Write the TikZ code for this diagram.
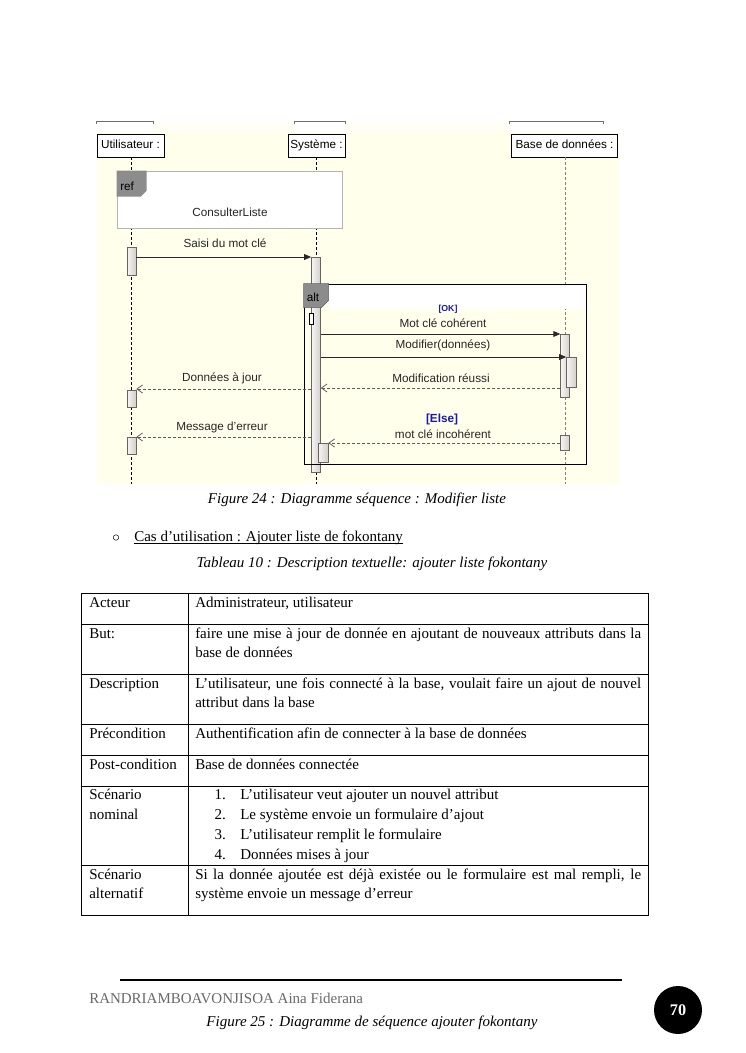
\documentclass[tikz,border=0pt]{standalone}
\usepackage{fontspec}
\setmainfont{Liberation Serif}
\newfontfamily\diag{Liberation Sans}
\usetikzlibrary{arrows.meta}
\definecolor{cream}{RGB}{255,255,236}
\definecolor{creamlight}{RGB}{255,255,246}
\definecolor{tabgray}{RGB}{140,140,140}
\definecolor{refborder}{RGB}{180,180,180}
\definecolor{actfill}{RGB}{226,222,214}
\definecolor{actdraw}{RGB}{105,100,95}
\definecolor{msgcol}{RGB}{40,40,40}
\definecolor{retcol}{RGB}{90,90,90}
\definecolor{guardblue}{RGB}{25,25,170}
\definecolor{footgray}{RGB}{105,105,105}
\definecolor{bracketgray}{RGB}{110,110,110}
\newcommand\jline[1]{\makebox[356.8pt][s]{#1}}
\begin{document}
\begin{tikzpicture}[x=0.8pt,y=-0.8pt,
  dfont/.style={font=\diag\fontsize{9.4}{10}\selectfont},
  lifehead/.style={draw=black, fill=white, dfont, inner sep=0pt, text height=7pt, text depth=1.5pt, minimum height={23*0.8pt}},
  lifeline/.style={draw=black, line width=0.6pt, dash pattern=on 2.4pt off 1.6pt},
  lifelinegray/.style={draw=gray, line width=0.5pt, dash pattern=on 2.4pt off 1.6pt},
  act/.style={draw=actdraw, left color=white!92!gray, right color=actfill!85!gray, line width=0.5pt, inner sep=0pt, minimum width={9*0.8pt}},
  syncmsg/.style={draw=msgcol, line width=0.7pt, -{Triangle[length=5.6pt,width=4.6pt]}},
  retmsg/.style={draw=retcol, line width=0.6pt, dash pattern=on 2.4pt off 1.6pt, -{Straight Barb[length=4.5pt,width=6.5pt,line width=0.6pt]}},
  msglabel/.style={dfont, text=black!85, inner sep=0pt},
  guard/.style={text=guardblue, inner sep=0pt, font=\diag\bfseries},
  tabshape/.style={fill=tabgray, draw=tabgray!70!black, line width=0.4pt},
  body/.style={font=\fontsize{12}{15}\selectfont, inner sep=0pt, anchor=base west},
  caption/.style={font=\fontsize{12}{15}\selectfont\itshape, inner sep=0pt, anchor=base},
  rule/.style={draw=black, line width=0.7pt}
]
\useasboundingbox (0,0) rectangle (745,1053);
\fill[white] (0,0) rectangle (745,1053);

% ---------- diagram background ----------
\fill[cream] (97,132) rectangle (619,484);
\fill[creamlight] (153,121) rectangle (294,132);
\fill[creamlight] (345,121) rectangle (509,132);
\draw[bracketgray, line width=0.6pt] (96,124) -- (96,121) -- (153,121) -- (153,124);
\draw[bracketgray, line width=0.6pt] (294,124) -- (294,121) -- (345,121) -- (345,124);
\draw[bracketgray, line width=0.6pt] (509,124) -- (509,121) -- (603,121) -- (603,124);

% ---------- lifeline heads ----------
\node[lifehead, minimum width={67*0.8pt}] (U) at (130.5,145.5) {Utilisateur :};
\node[lifehead, minimum width={57*0.8pt}] (S) at (316.5,145.5) {Système :};
\node[lifehead, minimum width={106*0.8pt}] (B) at (564.5,145.5) {Base de données :};

\coordinate (Uend) at (131,484);
\coordinate (Send) at (316.5,484);
\coordinate (Bend) at (565.5,484);
\draw[lifeline] (U.south -| Uend) -- (Uend);
\draw[lifeline] (S.south -| Send) -- (Send);
\draw[lifelinegray] (B.south -| Bend) -- (Bend);

% ---------- ref frame ----------
\node[draw=refborder, fill=white, line width=0.6pt, minimum width={225*0.8pt}, minimum height={57*0.8pt}, inner sep=0pt] (ref) at (229.5,199.5) {};
\draw[tabshape, draw=none] (ref.north west) -- ++(30,0) -- ++(0,20) -- ++(-6,6) -- ++(-24,0) -- cycle;
\node[dfont, anchor=west, inner sep=0pt] (reflabel) at (120,186) {ref};
\node[msglabel] (refname) at (230,212) {ConsulterListe};

% ---------- activations ----------
\node[act, minimum height={215*0.8pt}] (S1) at (316,364.5) {};
\node[act, minimum height={28*0.8pt}] (U1) at (131.5,261) {};

% ---------- alt frame ----------
\fill[white] (329,284) rectangle (586,308.5);
\node[draw=black, line width=0.8pt, minimum width={282*0.8pt}, minimum height={180*0.8pt}, inner sep=0pt] (alt) at (445,374) {};
\draw[tabshape] (alt.north west) -- ++(25,0) -- ++(0,17) -- ++(-7,7) -- ++(-18,0) -- cycle;
\node[dfont, anchor=west, inner sep=0pt] (altlabel) at (306.5,297) {alt};

\node[draw=black, fill=white, line width=0.5pt, inner sep=0pt, minimum width={4*0.8pt}, minimum height={11*0.8pt}] (Ssmall) at (311,318.5) {};

\node[act, minimum height={17*0.8pt}] (U2) at (131.5,398.5) {};
\node[act, minimum height={17*0.8pt}] (U3) at (131.5,445.5) {};
\node[act, minimum width={10*0.8pt}, minimum height={19*0.8pt}] (S2) at (323,452.5) {};
\node[act, minimum height={63*0.8pt}] (B1) at (565.2,365.5) {};
\node[act, minimum width={10*0.8pt}, minimum height={30*0.8pt}] (B2) at (571.5,372) {};
\node[act, minimum height={15*0.8pt}] (B3) at (565.2,442.5) {};

% ---------- messages ----------
\coordinate (m1s) at (U1.east |- 0,257);
\coordinate (m1e) at (S1.west |- 0,257);
\draw[syncmsg] (m1s) -- (m1e);
\node[msglabel] (l1) at (225,243) {Saisi du mot clé};

\node[guard, font=\diag\bfseries\fontsize{7}{8}\selectfont] (gok) at (448,309.5) {[OK]};
\coordinate (m2s) at (S1.east |- 0,334);
\coordinate (m2e) at (B1.west |- 0,334);
\draw[syncmsg] (m2s) -- (m2e);
\node[msglabel] (l2) at (443,323) {Mot clé cohérent};

\coordinate (m3s) at (S1.east |- 0,357);
\coordinate (m3e) at (B2.west |- 0,357);
\draw[syncmsg] (m3s) -- (m3e);
\node[msglabel] (l3) at (443,345) {Modifier(données)};

\coordinate (m4s) at (B1.west |- 0,388);
\coordinate (m4e) at (S1.east |- 0,388);
\draw[retmsg] (m4s) -- (m4e);
\node[msglabel] (l4) at (441,378) {Modification réussi};

\coordinate (m5s) at (S1.west |- 0,389);
\coordinate (m5e) at (U2.east |- 0,389);
\draw[retmsg] (m5s) -- (m5e);
\node[msglabel] (l5) at (222,378) {Données à jour};

\node[guard, font=\diag\bfseries\fontsize{9.4}{10}\selectfont] (gelse) at (442,419.5) {[Else]};
\coordinate (m6s) at (B3.west |- 0,443);
\coordinate (m6e) at (S2.east |- 0,443);
\draw[retmsg] (m6s) -- (m6e);
\node[msglabel] (l6) at (443,434) {mot clé incohérent};

\coordinate (m7s) at (S1.west |- 0,437);
\coordinate (m7e) at (U3.east |- 0,437);
\draw[retmsg] (m7s) -- (m7e);
\node[msglabel] (l7) at (222,427) {Message d’erreur};

% ---------- page text ----------
\node[caption] (cap24) at (357,503) {Figure 24 : Diagramme séquence : Modifier liste};
\node[draw=black, circle, line width=0.4pt, inner sep=0pt, minimum size={5.5*0.8pt}] (bullet) at (116,537.5) {};
\node[body] (cas) at (134,541.5) {Cas d’utilisation : Ajouter liste de fokontany};
\draw[black, line width=0.5pt] ([yshift=-1.3pt]cas.base west) -- ([yshift=-1.3pt]cas.base east);
\node[caption] (tab10) at (372,567) {Tableau 10 : Description textuelle: ajouter liste fokontany};

% ---------- table ----------
\node[draw=black, line width=0.7pt, inner sep=0pt, minimum width={567*0.8pt}, minimum height={322*0.8pt}] (tbl) at (364.5,754) {};
\coordinate (c1t) at (188,593);
\coordinate (c1b) at (188,915);
\draw[rule] (c1t) -- (c1b);
\foreach \yy in {624,674,724,755,786,865} {
  \draw[rule] (tbl.west |- 0,\yy) -- (tbl.east |- 0,\yy);
}

\node[body] (a1) at (89,607) {Acteur};
\node[body] (b1) at (195,607) {Administrateur, utilisateur};

\node[body] (a2) at (89,638) {But:};
\node[body] (b2) at (195,638) {\jline{faire une mise à jour de donnée en ajoutant de nouveaux attributs dans la}};
\node[body] (b2b) at (195,657.5) {base de données};

\node[body] (a3) at (89,688) {Description};
\node[body] (b3) at (195,688) {\jline{L’utilisateur, une fois connecté à la base, voulait faire un ajout de nouvel}};
\node[body] (b3b) at (195,707.5) {attribut dans la base};

\node[body] (a4) at (89,738) {Précondition};
\node[body] (b4) at (195,738) {Authentification afin de connecter à la base de données};

\node[body] (a5) at (89,769) {Post-condition};
\node[body] (b5) at (195,769) {Base de données connectée};

\node[body] (a6) at (89,799) {Scénario};
\node[body] (a6b) at (89,819) {nominal};
\node[body, anchor=base east] (n1) at (226,799) {1.};
\node[body] (t1) at (240,799) {L’utilisateur veut ajouter un nouvel attribut};
\node[body, anchor=base east] (n2) at (226,819) {2.};
\node[body] (t2) at (240,819) {Le système envoie un formulaire d’ajout};
\node[body, anchor=base east] (n3) at (226,839) {3.};
\node[body] (t3) at (240,839) {L’utilisateur remplit le formulaire};
\node[body, anchor=base east] (n4) at (226,859) {4.};
\node[body] (t4) at (240,859) {Données mises à jour};

\node[body] (a7) at (89,879) {Scénario};
\node[body] (a7b) at (89,898.5) {alternatif};
\node[body] (b7) at (195,879) {\jline{Si la donnée ajoutée est déjà existée ou le formulaire est mal rempli, le}};
\node[body] (b7b) at (195,898.5) {système envoie un message d’erreur};

% ---------- footer ----------
\coordinate (fl) at (120,980);
\coordinate (fr) at (622,980);
\draw[black, line width=1.6pt] (fl) -- (fr);
\node[body, text=footgray] (author) at (89,1003.5) {RANDRIAMBOAVONJISOA Aina Fiderana};
\node[circle, fill=black, inner sep=0pt, minimum size={48*0.8pt}, text=white, font=\fontsize{13}{15}\selectfont\bfseries] (pnum) at (678,1010) {70};
\node[caption] (cap25) at (372,1026.5) {Figure 25 : Diagramme de séquence ajouter fokontany};
\end{tikzpicture}
\end{document}
